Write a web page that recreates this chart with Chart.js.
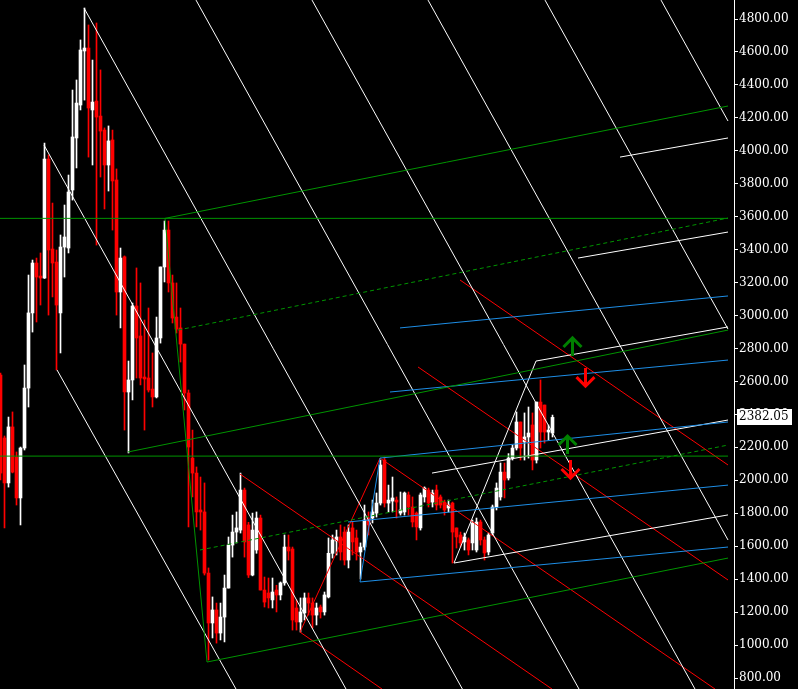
<!DOCTYPE html>
<html>
<head>
<meta charset="utf-8">
<script src="https://cdn.jsdelivr.net/npm/chart.js@4.4.1/dist/chart.umd.min.js"></script>
<style>
  html, body { margin: 0; padding: 0; background: #000; }
  #wrap { width: 798px; height: 689px; position: relative; background: #000; }
</style>
</head>
<body>
<div id="wrap"><canvas id="chart"></canvas></div>
<script>
/* ── Data ─────────────────────────────────────────────── */
const opens = [2639,2257,1984,2324,2141,1893,2196,2560,3016,3319,3240,3228,3950,3404,3325,3016,3416,3410,3762,4078,
  4278,4606,4624,4248,4302,4211,4126,3914,4066,3823,3143,3356,2536,2609,3058,2876,2627,2621,2554,2506,
  2864,3295,3519,3198,2991,2925,2827,2530,2135,2044,1820,1808,1437,1134,1213,1073,1170,1346,1607,1686,
  1698,1941,1729,1425,1577,1771,1334,1316,1274,1334,1304,1377,1595,1583,1225,1140,1195,1286,1255,1182,
  1231,1201,1292,1557,1632,1656,1686,1516,1711,1650,1565,1595,1771,1771,1801,1862,2123,1862,1874,1880,
  1801,1808,1911,1838,1801,1711,1899,1941,1868,1941,1899,1868,1832,1862,1711,1668,1626,1638,1620,1577,
  1747,1638,1565,1680,1838,1899,2050,2014,2135,2196,2354,2233,2263,2336,2123,2475,2457,2293,2287];
const highs = [2651,2269,2384,2415,2172,2202,2700,3246,3337,3349,3380,4047,3975,3683,3398,3489,3671,3853,4369,4430,
  4673,4867,4764,4551,4776,4491,4139,4151,4126,3890,3410,3362,2724,3076,3289,3198,2973,3046,2773,2991,
  3295,3574,3574,3246,3198,3046,2827,2548,2305,2081,2020,1984,1468,1292,1255,1255,1425,1656,1789,1808,
  2044,1953,1745,1801,1808,1789,1413,1407,1407,1363,1383,1668,1668,1595,1274,1286,1316,1316,1286,1255,
  1243,1322,1650,1668,1698,1729,1717,1729,1747,1698,1620,1850,1808,1880,1923,2123,2141,1971,2020,1899,
  1929,1929,1929,1899,1808,1923,1960,1953,1941,1971,1911,1880,1880,1868,1711,1686,1680,1650,1759,1771,
  1759,1656,1680,1850,1984,2105,2105,2162,2214,2415,2354,2409,2445,2409,2475,2609,2457,2336,2396];
const lows = [2002,1711,1959,2045,1850,1729,2184,2445,2900,2961,3064,3225,3003,3113,2670,2773,3234,3380,3701,3896,
  4248,4308,3962,3914,3428,3841,3647,3756,3519,3003,2925,2305,2166,2488,2621,2579,2305,2536,2445,2500,
  2833,3204,3143,2955,2894,2718,2427,1717,1899,1717,1698,1425,909,1043,1012,1031,1019,1346,1534,1620,
  1680,1534,1410,1420,1557,1334,1231,1225,1225,1201,1274,1363,1516,1091,1091,1079,1152,1182,1104,1122,
  1164,1182,1286,1528,1547,1516,1486,1468,1547,1516,1401,1577,1668,1741,1777,1850,1838,1808,1808,1771,
  1789,1789,1789,1717,1638,1698,1868,1838,1838,1820,1832,1789,1808,1498,1589,1595,1577,1547,1577,1565,
  1607,1516,1547,1668,1820,1880,1893,2002,2123,2184,2123,2123,2135,2063,2105,2196,2226,2244,2263];
const closes = [2044,1984,2324,2050,1893,2196,2560,3016,3319,3234,3228,3950,3398,3319,3064,3416,3477,3750,4084,4290,
  4612,4624,4260,4296,4205,4120,3914,4060,3817,3143,3349,2536,2609,3058,2864,2621,2615,2548,2506,2864,
  3295,3519,3198,2985,2918,2827,2530,2202,2044,1808,1808,1437,1134,1213,1073,1170,1346,1607,1686,1711,
  1941,1626,1425,1698,1771,1334,1261,1286,1322,1304,1377,1595,1571,1152,1140,1201,1286,1255,1182,1225,
  1201,1304,1557,1638,1656,1565,1516,1686,1626,1565,1595,1759,1729,1808,1862,2093,1862,1880,1893,1868,
  1820,1923,1838,1747,1717,1911,1953,1862,1923,1850,1850,1820,1850,1686,1656,1620,1656,1577,1741,1747,
  1638,1559,1668,1838,1953,2050,2002,2135,2196,2354,2196,2263,2287,2123,2475,2293,2293,2305,2382.05];

const yTicks = [800,1000,1200,1400,1600,1800,2000,2200,2400,2600,2800,3000,3200,3400,3600,3800,4000,4200,4400,4600,4800];
const lastPrice = 2382.05;

// trend objects: [barIndex1, price1, barIndex2, price2]
const greenSolid = [
  [-0.125, 3590, 181.875, 3590],
  [-0.125, 2147, 181.875, 2147],
  [41.125, 3590, 181.875, 4272],
  [31.875, 2172, 181.875, 2912],
  [51.625, 897, 181.875, 1528],
  [41.125, 3590, 51.625, 897],
];
const greenDashed = [
  [44.375, 2912, 181.875, 3592],
  [49.875, 1577, 181.875, 2214],
];
const blueLines = [
  [99.875, 2925, 181.875, 3119],
  [97.375, 2536, 181.875, 2730],
  [94.875, 2135, 181.875, 2354],
  [86.875, 1747, 181.875, 1971],
  [89.875, 1383, 181.875, 1595],
  [89.875, 1383, 94.875, 2135],
];
const whiteLines = [
  [154.875, 3962, 181.875, 4078],
  [144.375, 3349, 181.875, 3507],
  [133.875, 2724, 181.875, 2931],
  [107.875, 2044, 181.875, 2366],
  [113.375, 1498, 181.875, 1790],
  [113.375, 1498, 133.875, 2724],
  [14.125, 2670, 58.875, 733],
  [10.875, 4035, 86.375, 733],
  [20.875, 4867, 115.475, 733],
  [48.875, 4915, 144.625, 733],
  [77.875, 4915, 173.625, 733],
  [106.875, 4915, 181.875, 1638],
  [136.125, 4915, 181.875, 2918],
  [165.125, 4915, 181.875, 4181],
];
const redLines = [
  [59.875, 2038, 137.875, 733],
  [74.875, 1079, 95.375, 733],
  [94.875, 2135, 178.625, 733],
  [114.875, 3216, 181.875, 2093],
  [104.375, 2688, 181.875, 1395],
  [74.875, 1079, 94.875, 2135],
];
const upArrows = [[142.875, 2864], [141.625, 2269]];
const downArrows = [[146.125, 2572], [142.375, 2014]];

/* ── Build datasets ───────────────────────────────────── */
const idx = opens.map((_, i) => i);
const candleColor = idx.map(i => closes[i] >= opens[i] ? '#ffffff' : '#ff0000');

const datasets = [];
function addLines(list, color, dash) {
  list.forEach(([x1, y1, x2, y2]) => datasets.push({
    type: 'line',
    data: [{ x: x1, y: y1 }, { x: x2, y: y2 }],
    borderColor: color,
    borderWidth: 1,
    borderDash: dash || [],
    pointRadius: 0,
    fill: false,
    order: 0,
  }));
}
addLines(greenSolid, '#009400');
addLines(greenDashed, '#009400', [4, 3]);
addLines(blueLines, '#1e8ee6');
addLines(whiteLines, '#ffffff');
addLines(redLines, '#ff0000');

datasets.push({
  type: 'bar',
  data: idx.map(i => ({ x: i, y: [lows[i], highs[i]] })),
  backgroundColor: candleColor,
  barThickness: 1,
  grouped: false,
  order: 2,
});
datasets.push({
  type: 'bar',
  data: idx.map(i => ({ x: i, y: [opens[i], closes[i]] })),
  backgroundColor: candleColor,
  barThickness: 3,
  minBarLength: 1,
  grouped: false,
  order: 1,
});

/* ── Plugins ──────────────────────────────────────────── */
const arrowPlugin = {
  id: 'arrows',
  afterDatasetsDraw(chart) {
    const { ctx, scales: { x, y } } = chart;
    ctx.save();
    ctx.lineWidth = 3;
    const draw = (list, color, dir) => {
      ctx.strokeStyle = color;
      list.forEach(([i, p]) => {
        const cx = Math.round(x.getPixelForValue(i)) + 0.5;
        const ty = y.getPixelForValue(p);
        ctx.beginPath();
        ctx.moveTo(cx - 9, ty + dir * 9);
        ctx.lineTo(cx, ty);
        ctx.lineTo(cx + 9, ty + dir * 9);
        ctx.moveTo(cx, ty);
        ctx.lineTo(cx, ty + dir * 18);
        ctx.stroke();
      });
    };
    draw(upArrows, '#008000', 1);
    draw(downArrows, '#ff0000', -1);
    ctx.restore();
  },
};

const pricePlugin = {
  id: 'price-label',
  afterDraw(chart) {
    const { ctx, scales: { y } } = chart;
    const py = Math.round(y.getPixelForValue(lastPrice));
    ctx.save();
    ctx.fillStyle = '#ffffff';
    ctx.fillRect(737, py - 8, 55, 16);
    ctx.fillStyle = '#000000';
    ctx.font = '12px "DejaVu Serif"';
    ctx.textBaseline = 'middle';
    ctx.textAlign = 'left';
    ctx.fillText(lastPrice.toFixed(2), 739, py);
    ctx.restore();
  },
};

/* ── Chart ────────────────────────────────────────────── */
new Chart(document.getElementById('chart'), {
  type: 'bar',
  data: { datasets },
  options: {
    responsive: true,
    maintainAspectRatio: false,
    animation: false,
    layout: { padding: 0 },
    plugins: { legend: { display: false }, tooltip: { enabled: false } },
    scales: {
      x: { type: 'linear', min: -0.125, max: 183.375, display: false, offset: false },
      y: {
        type: 'linear',
        position: 'right',
        min: 733.3,
        max: 4915.5,
        afterBuildTicks: s => { s.ticks = yTicks.map(v => ({ value: v })); },
        afterFit: s => { s.width = 64; s.paddingTop = 0; s.paddingBottom = 0; },
        border: { color: '#ffffff', width: 1 },
        grid: { drawOnChartArea: false, color: '#ffffff', tickLength: 4 },
        ticks: {
          color: '#ffffff',
          padding: 1,
          font: { family: 'DejaVu Serif', size: 12 },
          callback: v => v.toFixed(2),
        },
      },
    },
  },
  plugins: [arrowPlugin, pricePlugin],
});
</script>
</body>
</html>
